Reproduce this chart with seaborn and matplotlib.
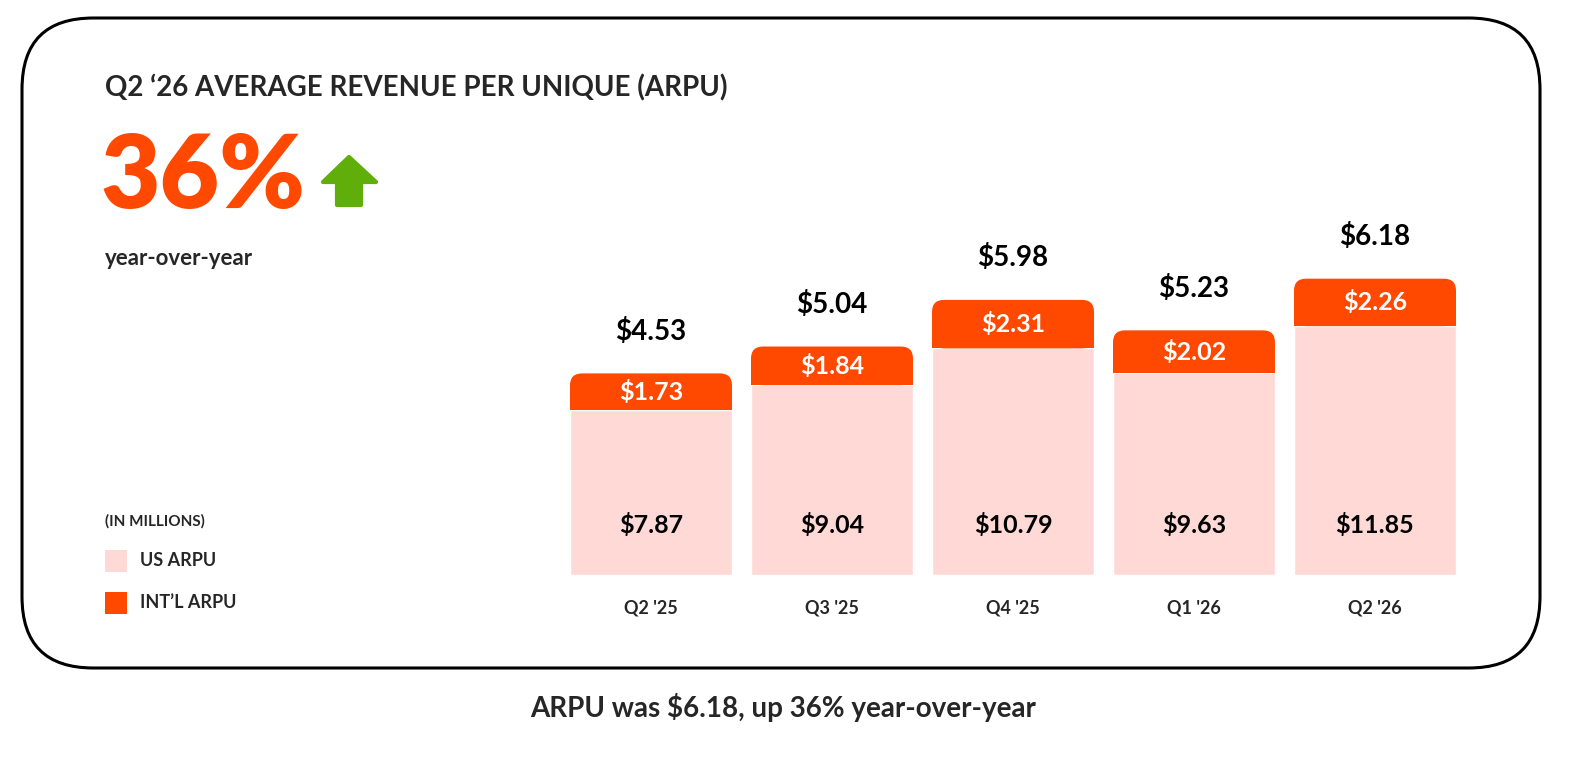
import matplotlib.pyplot as plt
import seaborn as sns
import pandas as pd
from matplotlib.patches import FancyBboxPatch, Rectangle, Polygon

quarters = ["Q2 '25", "Q3 '25", "Q4 '25", "Q1 '26", "Q2 '26"]
us_arpu = [7.87, 9.04, 10.79, 9.63, 11.85]
intl_arpu = [1.73, 1.84, 2.31, 2.02, 2.26]
total_arpu = [4.53, 5.04, 5.98, 5.23, 6.18]

PINK = '#FFD9D6'
ORANGE = '#FF4800'
GREEN = '#5FAE0A'

sns.set_theme(style='white')
plt.rcParams['font.family'] = ['Lato', 'DejaVu Sans']
plt.rcParams['font.weight'] = 'bold'

W, H = 1586, 760
fig = plt.figure(figsize=(W / 100, H / 100), dpi=100)

# rounded frame
fig.patches.append(FancyBboxPatch((22 / W, (H - 668) / H), (1540 - 22) / W, (668 - 18) / H,
                                  boxstyle='round,pad=0,rounding_size=0.045',
                                  mutation_aspect=W / H, transform=fig.transFigure,
                                  fill=False, edgecolor='black', linewidth=2.2))

ax = fig.add_axes([560.5 / W, 185 / H, 905 / W, 375 / H])
df = pd.DataFrame({'q': quarters, 'us': us_arpu, 'intl': intl_arpu})
width = 162 / 181
sns.barplot(data=df, x='q', y='us', color=PINK, width=width, saturation=1, ax=ax)
ax.set_xlim(-0.5, 4.5)
ax.set_ylim(0, 375 / 21)

rx = 12 / 181
ry = 12 / 21
for i, (u, n, t) in enumerate(zip(us_arpu, intl_arpu, total_arpu)):
    x0 = i - width / 2
    ax.add_patch(FancyBboxPatch((x0, u), width, n,
                                boxstyle=f'round,pad=0,rounding_size={rx}',
                                mutation_aspect=ry / rx, facecolor=ORANGE, edgecolor='none'))
    ax.add_patch(Rectangle((x0, u), width, n / 2, facecolor=ORANGE, edgecolor='none'))
    ax.text(i, 2.4, f'${u:.2f}', ha='center', va='center', fontsize=18, color='black')
    ax.text(i, u + n / 2, f'${n:.2f}', ha='center', va='center', fontsize=18, color='white')
    ax.text(i, u + n + 2.0, f'${t:.2f}', ha='center', va='center', fontsize=20, color='black')

ax.set_xlabel('')
ax.set_ylabel('')
ax.set_yticks([])
ax.tick_params(axis='x', length=0, pad=18, labelsize=13)
for lbl in ax.get_xticklabels():
    lbl.set_fontweight('bold')
sns.despine(ax=ax, left=True, bottom=True)

fig.text(105 / W, 1 - 88 / H, "Q2 \u201826 AVERAGE REVENUE PER UNIQUE (ARPU)", fontsize=20,
         va='center', ha='left', fontweight='bold')
fig.text(100 / W, 1 - 178 / H, '36%', fontsize=74, color=ORANGE, va='center', ha='left',
         fontweight='heavy')
fig.text(105 / W, 1 - 258 / H, 'year-over-year', fontsize=16, va='center', ha='left')

# green arrow
pts = [(323, 182), (349, 157), (376, 182), (361, 182), (361, 205), (337, 205), (337, 182)]
fig.patches.append(Polygon([(x / W, 1 - y / H) for x, y in pts], closed=True,
                           transform=fig.transFigure, facecolor=GREEN, edgecolor=GREEN,
                           joinstyle='round', linewidth=3))

fig.text(105 / W, 1 - 521 / H, '(IN MILLIONS)', fontsize=11, va='center', ha='left')
fig.patches.append(Rectangle((105 / W, 1 - 572 / H), 22 / W, 22 / H, transform=fig.transFigure,
                             facecolor=PINK, edgecolor='none'))
fig.text(140 / W, 1 - 561 / H, 'US ARPU', fontsize=13, va='center', ha='left')
fig.patches.append(Rectangle((105 / W, 1 - 614 / H), 22 / W, 22 / H, transform=fig.transFigure,
                             facecolor=ORANGE, edgecolor='none'))
fig.text(140 / W, 1 - 603 / H, 'INT\u2019L ARPU', fontsize=13, va='center', ha='left')

fig.text(783 / W, 1 - 708 / H, 'ARPU was $6.18, up 36% year-over-year', fontsize=20,
         ha='center', va='center')

fig.savefig('out.png', dpi=100, facecolor='white')
